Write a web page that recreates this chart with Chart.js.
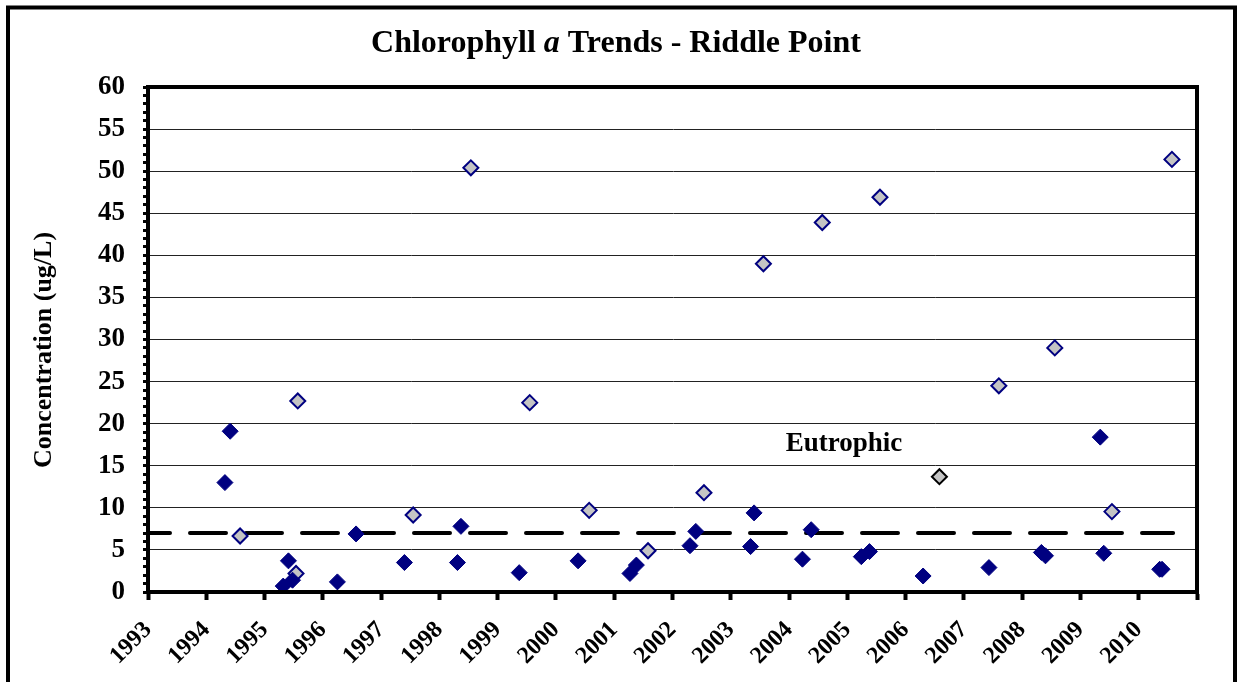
<!DOCTYPE html>
<html>
<head>
<meta charset="utf-8">
<script src="https://cdn.jsdelivr.net/npm/chart.js@4.4.1/dist/chart.umd.min.js"></script>
<style>
  html, body { margin: 0; padding: 0; background: #fff; }
  canvas { display: block; }
</style>
</head>
<body>
<canvas id="chart" width="1241" height="682"></canvas>
<script>
// navy (filled) diamonds
const navyDates = [1994.32, 1994.41, 1995.32, 1995.41, 1995.48, 1996.25, 1996.57, 1997.40, 1998.31, 1998.37,
  1999.37, 2000.38, 2001.27, 2001.38, 2002.30, 2002.40, 2003.34, 2003.40, 2004.23, 2004.38,
  2005.24, 2005.38, 2006.30, 2007.43, 2008.33, 2008.40, 2009.34, 2009.40, 2010.36, 2010.40];
const navyValues = [13.0, 19.1, 0.7, 3.7, 1.4, 1.2, 6.9, 3.5, 3.5, 7.8,
  2.3, 3.7, 2.2, 3.2, 5.5, 7.2, 5.4, 9.4, 3.9, 7.4,
  4.2, 4.8, 1.9, 2.9, 4.7, 4.3, 18.4, 4.6, 2.7, 2.7];

// grey diamonds with navy edge
const greyDates = [1994.58, 1995.54, 1995.57, 1997.55, 1998.54, 1999.55, 2000.57, 2001.58, 2002.54,
  2003.56, 2004.57, 2005.56, 2007.60, 2008.56, 2009.54, 2010.57];
const greyValues = [6.65, 2.2, 22.7, 9.15, 50.4, 22.5, 9.7, 4.9, 11.8,
  39.0, 43.9, 46.9, 24.5, 29.0, 9.55, 51.4];

// grey diamond with black edge
const blackEdgeDates = [2006.58];
const blackEdgeValues = [13.7];

// eutrophic threshold line
const eutrophicLevel = 7;
const eutrophicSpan = [1993, 2010.59];

const yearMin = 1993, yearMax = 2011;
const yMin = 0, yMax = 60;

const toPoints = (xs, ys) => xs.map((x, i) => ({ x: x, y: ys[i] }));

const serif = "'Liberation Serif', 'Times New Roman', serif";

const decor = {
  id: 'decor',
  beforeDraw(chart) {
    const ctx = chart.ctx;
    ctx.save();
    ctx.fillStyle = '#fff';
    ctx.fillRect(0, 0, chart.width, chart.height);
    ctx.restore();
  },
  afterDraw(chart) {
    const ctx = chart.ctx;
    const a = chart.chartArea;
    ctx.save();
    // outer frame
    ctx.strokeStyle = '#000';
    ctx.lineWidth = 4;
    ctx.strokeRect(8, 7.5, 1227, 700);
    // plot frame
    ctx.lineWidth = 4;
    ctx.strokeRect(a.left, a.top, a.right - a.left, a.bottom - a.top);

    // title with italic "a"
    const parts = [
      ['bold 32px ' + serif, 'Chlorophyll '],
      ['bold italic 32px ' + serif, 'a'],
      ['bold 32px ' + serif, ' Trends - Riddle Point']
    ];
    let total = 0;
    parts.forEach(p => { ctx.font = p[0]; total += ctx.measureText(p[1]).width; });
    let x = 616 - total / 2;
    ctx.fillStyle = '#000';
    ctx.textBaseline = 'alphabetic';
    ctx.textAlign = 'left';
    parts.forEach(p => {
      ctx.font = p[0];
      ctx.fillText(p[1], x, 52);
      x += ctx.measureText(p[1]).width;
    });

    // y axis title
    ctx.save();
    ctx.translate(44, 350);
    ctx.rotate(-Math.PI / 2);
    ctx.font = 'bold 26px ' + serif;
    ctx.textAlign = 'center';
    ctx.textBaseline = 'middle';
    ctx.fillText('Concentration (ug/L)', 0, 0);
    ctx.restore();

    // threshold label
    ctx.font = 'bold 27px ' + serif;
    ctx.textAlign = 'center';
    ctx.textBaseline = 'middle';
    ctx.fillText('Eutrophic', 844, 444);
    ctx.restore();
  }
};

new Chart(document.getElementById('chart'), {
  type: 'scatter',
  data: {
    datasets: [
      {
        label: 'navy',
        data: toPoints(navyDates, navyValues),
        pointStyle: 'rectRot',
        pointRadius: 8,
        pointBackgroundColor: '#000080',
        pointBorderColor: '#000080',
        pointBorderWidth: 1
      },
      {
        label: 'grey',
        data: toPoints(greyDates, greyValues),
        pointStyle: 'rectRot',
        pointRadius: 7.5,
        pointBackgroundColor: '#c4c4c4',
        pointBorderColor: '#000080',
        pointBorderWidth: 2
      },
      {
        label: 'grey black edge',
        data: toPoints(blackEdgeDates, blackEdgeValues),
        pointStyle: 'rectRot',
        pointRadius: 7.5,
        pointBackgroundColor: '#c4c4c4',
        pointBorderColor: '#000',
        pointBorderWidth: 2
      },
      {
        label: 'Eutrophic',
        data: eutrophicSpan.map(x => ({ x: x, y: eutrophicLevel })),
        showLine: true,
        pointRadius: 0,
        borderColor: '#000',
        borderWidth: 4,
        borderDash: [36, 20],
        borderDashOffset: 14,
        borderCapStyle: 'round'
      }
    ]
  },
  options: {
    responsive: false,
    animation: false,
    devicePixelRatio: 1,
    events: [],
    layout: { padding: { left: 0, top: 87, right: 44, bottom: 0 } },
    plugins: {
      legend: { display: false },
      title: { display: false },
      tooltip: { enabled: false }
    },
    scales: {
      x: {
        type: 'linear',
        min: yearMin,
        max: yearMax,
        afterFit(scale) { scale.height = 90; },
        border: { display: true, color: '#000', width: 4 },
        grid: {
          drawOnChartArea: false,
          drawTicks: true,
          tickLength: 8,
          tickWidth: 4,
          tickColor: '#000'
        },
        ticks: {
          stepSize: 1,
          autoSkip: false,
          maxRotation: 45,
          minRotation: 45,
          padding: 16,
          color: '#000',
          font: { family: serif, size: 24, weight: 'bold' },
          callback: v => (v === yearMax ? '' : String(v))
        }
      },
      y: {
        min: yMin,
        max: yMax,
        afterFit(scale) { scale.width = 148; },
        border: { display: true, color: '#000', width: 4 },
        grid: {
          color: ctx => (ctx.tick && ctx.tick.value % 5 === 0 ? '#222' : 'rgba(0,0,0,0)'),
          lineWidth: 1,
          tickLength: 5,
          tickWidth: 3,
          tickColor: '#000'
        },
        ticks: {
          stepSize: 1,
          autoSkip: false,
          padding: 18,
          color: '#000',
          font: { family: serif, size: 27, weight: 'bold' },
          callback: v => (v % 5 === 0 ? String(v) : '')
        }
      }
    }
  },
  plugins: [decor]
});
</script>
</body>
</html>
